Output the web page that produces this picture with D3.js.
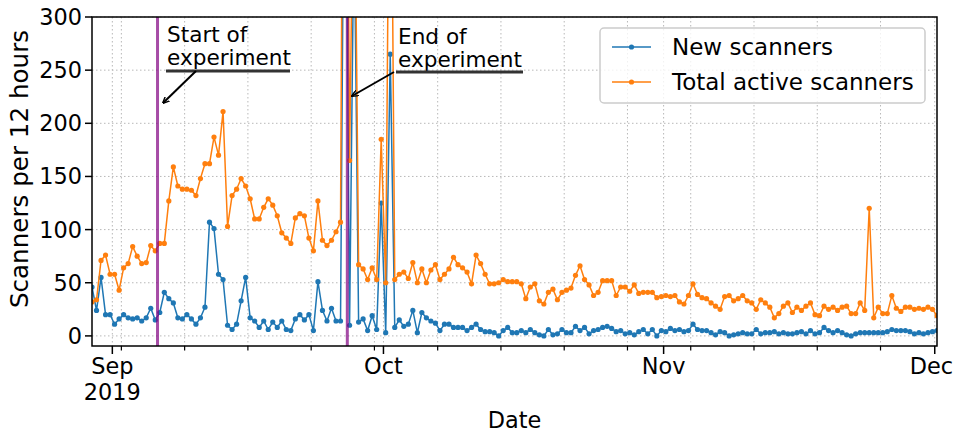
<!DOCTYPE html>
<html>
<head>
<meta charset="utf-8">
<script src="https://cdn.jsdelivr.net/npm/d3@7/dist/d3.min.js"></script>
<style>
body { margin: 0; background: #fff; }
svg text { font-family: "DejaVu Sans", sans-serif; fill: #000; }
</style>
</head>
<body>
<div id="wrap"></div>
<script>
// 12 hour bins, first bin Aug 29 2019 18:00
var startTime = Date.UTC(2019, 7, 29, 18);
var stepHours = 12;

var newScanners = [
  46, 24, 55, 20, 20, 11, 16, 20, 17, 16, 17, 14, 17, 26, 15, 22, 41, 35, 31, 17, 16, 20, 16, 11, 17,
  27, 107, 101, 58, 53, 10, 6, 11, 33, 55, 17, 14, 8, 14, 6, 13, 8, 14, 6, 5, 16, 20, 15, 20,
  5, 51, 24, 14, 26, 14, 14, 600, 10, 400, 13, 16, 5, 19, 6, 125, 3, 265, 8, 15,
  9, 11, 24, 3, 22, 17, 14, 12, 5, 11, 11, 8, 8, 8, 5, 8, 11, 6, 4, 4, 3, 0, 5, 8, 3,
  3, 5, 3, 6, 3, 1, 0, 6, 1, 2, 6, 3, 3, 9, 5, 8, 2, 5, 6, 8, 9, 7, 4, 5,
  2, 3, 1, 4, 6, 2, 6, 0, 5, 4, 7, 5, 6, 4, 5, 11, 6, 5, 5, 3, 1, 4, 3,
  0, 1, 2, 3, 2, 2, 6, 2, 3, 3, 4, 2, 3, 2, 2, 3, 4, 2, 5, 2, 3, 8, 5,
  3, 5, 3, 1, 0, 2, 3, 3, 3, 3, 3, 3, 4, 6, 5, 5, 5, 4, 2, 3, 2, 3, 4, 5
];

var totalScanners = [
  32, 34, 71, 76, 58, 58, 43, 64, 68, 84, 75, 68, 69, 85, 80, 87, 87, 127, 159, 141, 138, 138, 137, 132, 148,
  162, 162, 187, 170, 211, 103, 132, 138, 148, 141, 129, 110, 110, 121, 129, 123, 113, 97, 92, 87, 111, 115, 113, 92,
  80, 127, 90, 85, 90, 98, 107, 900, 165, 500, 67, 63, 53, 64, 53, 185, 50, 600, 53, 58,
  60, 54, 69, 50, 63, 50, 62, 67, 53, 58, 63, 74, 67, 64, 60, 49, 76, 68, 58, 49, 49, 50, 53, 51, 51,
  51, 49, 35, 46, 49, 33, 30, 41, 44, 34, 41, 43, 45, 57, 66, 53, 48, 38, 41, 52, 52, 52, 38, 46,
  46, 42, 48, 40, 41, 41, 41, 36, 37, 38, 37, 38, 32, 30, 38, 49, 39, 36, 35, 31, 28, 25, 37,
  38, 33, 35, 38, 33, 31, 25, 34, 31, 27, 17, 21, 28, 31, 22, 27, 24, 28, 31, 20, 19, 28, 25,
  27, 24, 27, 28, 21, 21, 31, 24, 120, 17, 27, 21, 21, 38, 26, 23, 27, 27, 25, 26, 25, 27, 25, 19
];

var seriesNames = ["New scanners", "Total active scanners"];
var seriesColors = ["#1f77b4", "#ff7f0e"];
var yTicks = [0, 50, 100, 150, 200, 250, 300];
var monthTicks = [Date.UTC(2019, 8, 1), Date.UTC(2019, 9, 1), Date.UTC(2019, 10, 1), Date.UTC(2019, 11, 1)];
var monthLabels = [["Sep", "2019"], ["Oct"], ["Nov"], ["Dec"]];
var experimentStart = Date.UTC(2019, 8, 6);
var experimentEnd = Date.UTC(2019, 8, 27);

var w = 954, h = 435;
var plotL = 92, plotR = 937, plotT = 17, plotB = 346;
var fs = 22.4;

var times = newScanners.map(function(d, i) {
  return new Date(startTime + i * stepHours * 3600 * 1000);
});

var x = d3.scaleUtc()
  .domain([times[0], times[times.length - 1]])
  .range([plotL, plotR]);
var y = d3.scaleLinear().domain([-9.5, 300]).range([plotB, plotT]);

var svg = d3.select("#wrap").append("svg").attr("width", w).attr("height", h);

svg.append("defs").append("clipPath").attr("id", "clip")
  .append("rect").attr("x", plotL).attr("y", plotT)
  .attr("width", plotR - plotL).attr("height", plotB - plotT);

// grid
var mondays = d3.utcMonday.range(x.domain()[0], x.domain()[1]);
var gridX = monthTicks.map(function(t) { return new Date(t); }).concat(mondays);
var grid = svg.append("g").attr("stroke", "#b8b8b8").attr("stroke-width", 1)
  .attr("stroke-dasharray", "1.5,2.5");
grid.selectAll("line.gx").data(gridX).enter().append("line")
  .attr("x1", function(d) { return x(d); }).attr("x2", function(d) { return x(d); })
  .attr("y1", plotT).attr("y2", plotB);
grid.selectAll("line.gy").data(yTicks).enter().append("line")
  .attr("x1", plotL).attr("x2", plotR)
  .attr("y1", function(d) { return y(d); }).attr("y2", function(d) { return y(d); });

// series
var plot = svg.append("g").attr("clip-path", "url(#clip)");
[newScanners, totalScanners].forEach(function(vals, k) {
  var line = d3.line()
    .x(function(d, i) { return x(times[i]); })
    .y(function(d) { return y(d); });
  plot.append("path").datum(vals)
    .attr("fill", "none").attr("stroke", seriesColors[k]).attr("stroke-width", 1.5)
    .attr("d", line);
  plot.selectAll("circle.s" + k).data(vals).enter().append("circle")
    .attr("class", "s" + k)
    .attr("cx", function(d, i) { return x(times[i]); })
    .attr("cy", function(d) { return y(d); })
    .attr("r", 2.6)
    .attr("fill", seriesColors[k]);
});

// experiment markers
[experimentStart, experimentEnd].forEach(function(t) {
  svg.append("line")
    .attr("x1", x(new Date(t))).attr("x2", x(new Date(t)))
    .attr("y1", plotT).attr("y2", plotB)
    .attr("stroke", "#800080").attr("stroke-opacity", 0.7).attr("stroke-width", 3);
});

// frame
svg.append("rect").attr("x", plotL).attr("y", plotT)
  .attr("width", plotR - plotL).attr("height", plotB - plotT)
  .attr("fill", "none").attr("stroke", "#000").attr("stroke-width", 1.5);

// y axis
var yAxis = svg.append("g");
yAxis.selectAll("line").data(yTicks).enter().append("line")
  .attr("x1", plotL - 7).attr("x2", plotL)
  .attr("y1", function(d) { return y(d); }).attr("y2", function(d) { return y(d); })
  .attr("stroke", "#000").attr("stroke-width", 1.5);
yAxis.selectAll("text").data(yTicks).enter().append("text")
  .attr("x", plotL - 10).attr("y", function(d) { return y(d) + 8; })
  .attr("text-anchor", "end").attr("font-size", fs)
  .text(function(d) { return d; });

// x axis
var xAxis = svg.append("g");
xAxis.selectAll("line.minor").data(mondays).enter().append("line")
  .attr("x1", function(d) { return x(d); }).attr("x2", function(d) { return x(d); })
  .attr("y1", plotB).attr("y2", plotB + 4.5)
  .attr("stroke", "#000").attr("stroke-width", 1.2);
xAxis.selectAll("line.major").data(monthTicks).enter().append("line")
  .attr("x1", function(d) { return x(new Date(d)); }).attr("x2", function(d) { return x(new Date(d)); })
  .attr("y1", plotB).attr("y2", plotB + 8)
  .attr("stroke", "#000").attr("stroke-width", 1.5);
monthTicks.forEach(function(t, i) {
  monthLabels[i].forEach(function(s, j) {
    var lab = xAxis.append("text")
      .attr("x", x(new Date(t))).attr("y", 374 + j * 26)
      .attr("text-anchor", "middle").attr("font-size", fs)
      .text(s);
    // keep the last label inside the page
    var len = lab.node().getComputedTextLength();
    if (x(new Date(t)) + len / 2 > w - 1) {
      lab.attr("text-anchor", "end").attr("x", w - 1);
    }
  });
});

svg.append("text").attr("x", (plotL + plotR) / 2).attr("y", 428)
  .attr("text-anchor", "middle").attr("font-size", fs).text("Date");
svg.append("text")
  .attr("transform", "translate(28,169) rotate(-90)")
  .attr("text-anchor", "middle").attr("font-size", 24.6).text("Scanners per 12 hours");

// annotations
var defs = svg.select("defs");
defs.append("marker").attr("id", "head")
  .attr("viewBox", "0 -5 10 10").attr("refX", 9).attr("refY", 0)
  .attr("markerWidth", 7).attr("markerHeight", 7).attr("orient", "auto")
  .attr("markerUnits", "userSpaceOnUse")
  .append("path").attr("d", "M0,-4.5L10,0L0,4.5").attr("fill", "none")
  .attr("stroke", "#000").attr("stroke-width", 2);

var notes = [
  {lines: ["Start of", "experiment"], tx: 167, ty: 42, ux1: 166, ux2: 290, uy: 71, ax: 196, tipX: 163, tipY: 103},
  {lines: ["End of", "experiment"], tx: 398, ty: 44, ux1: 396, ux2: 523, uy: 72, ax: 394, tipX: 352, tipY: 96}
];
notes.forEach(function(n) {
  n.lines.forEach(function(s, j) {
    svg.append("text").attr("x", n.tx).attr("y", n.ty + j * 23)
      .attr("font-size", 21.6).attr("fill", "#222").text(s);
  });
  svg.append("line").attr("x1", n.ux1).attr("x2", n.ux2).attr("y1", n.uy).attr("y2", n.uy)
    .attr("stroke", "#333").attr("stroke-width", 2.8);
  svg.append("line").attr("x1", n.ax).attr("y1", n.uy)
    .attr("x2", n.tipX).attr("y2", n.tipY)
    .attr("stroke", "#000").attr("stroke-width", 2)
    .attr("marker-end", "url(#head)");
});

// legend
var lg = svg.append("g");
lg.append("rect").attr("x", 600).attr("y", 28).attr("width", 325).attr("height", 75)
  .attr("rx", 4).attr("fill", "#fff").attr("fill-opacity", 0.8)
  .attr("stroke", "#cccccc").attr("stroke-width", 1.5);
seriesNames.forEach(function(name, k) {
  var ly = 47 + k * 35;
  lg.append("line").attr("x1", 612).attr("x2", 651).attr("y1", ly).attr("y2", ly)
    .attr("stroke", seriesColors[k]).attr("stroke-width", 1.5);
  lg.append("circle").attr("cx", 631.5).attr("cy", ly).attr("r", 2.6).attr("fill", seriesColors[k]);
  lg.append("text").attr("x", 672).attr("y", ly + 8).attr("font-size", 23).text(name);
});
</script>
</body>
</html>
